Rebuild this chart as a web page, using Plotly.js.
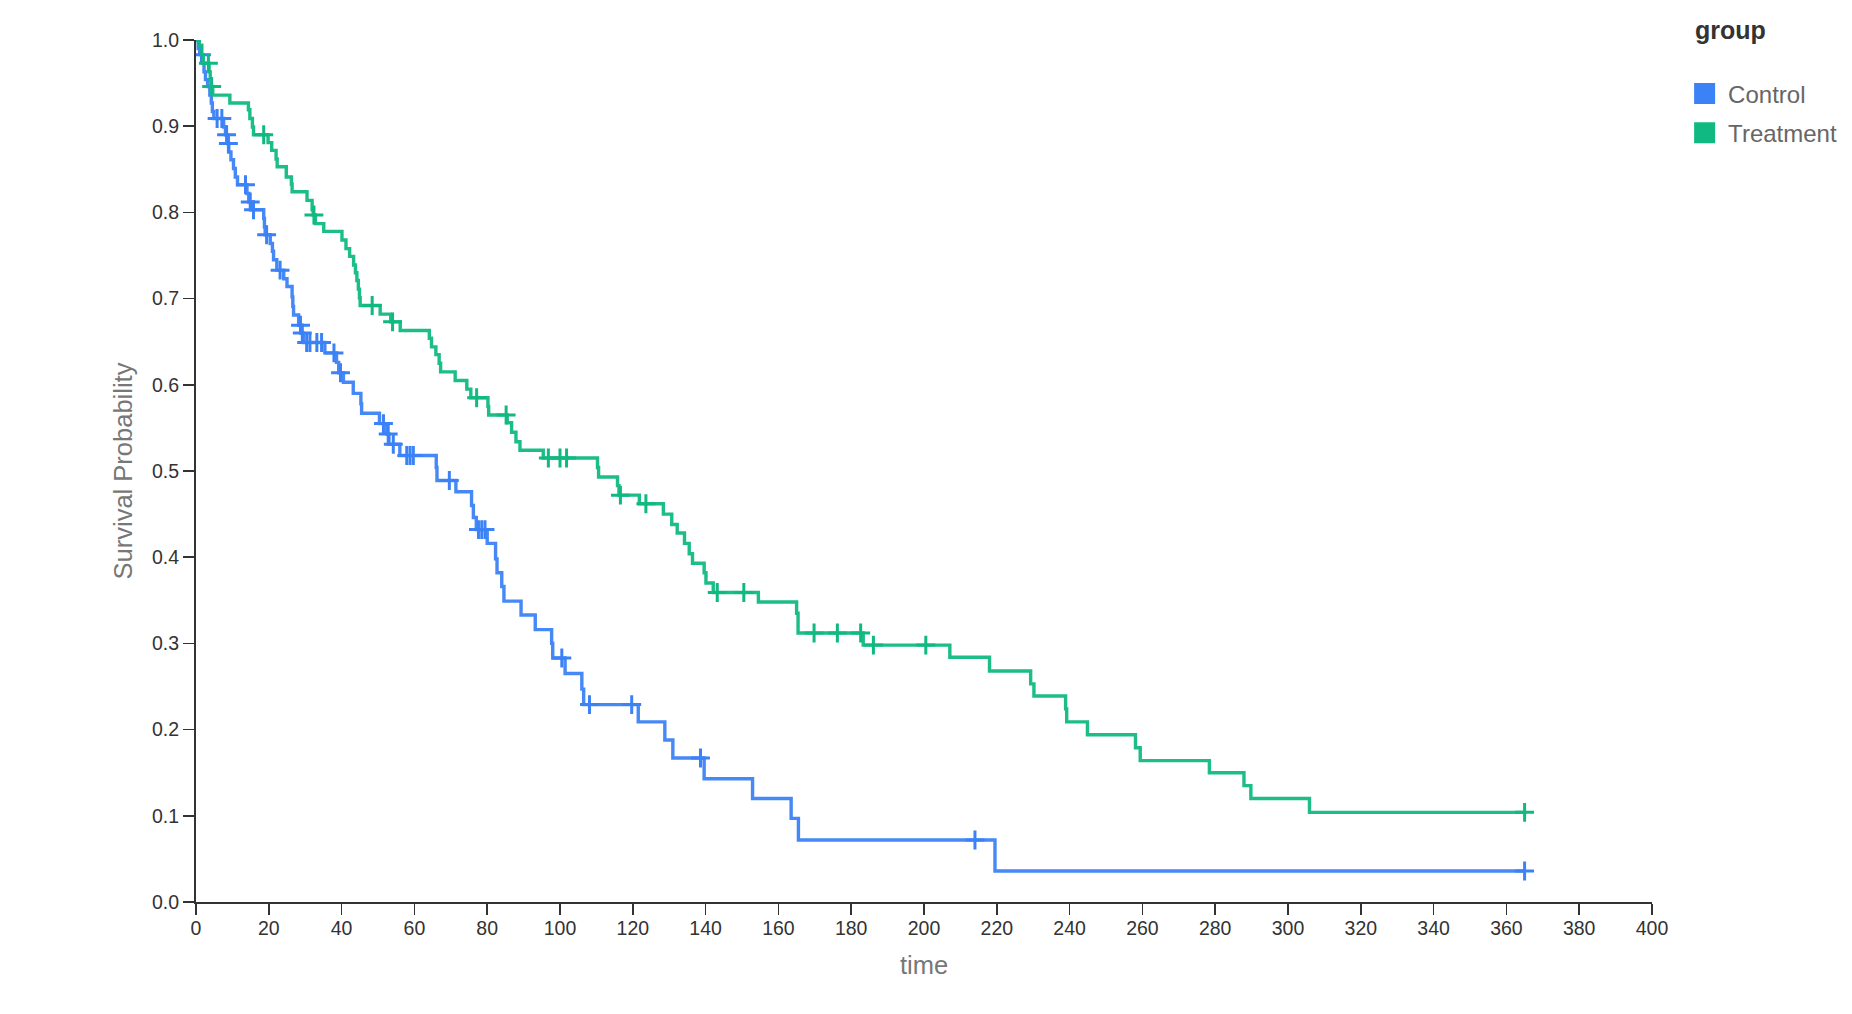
<!DOCTYPE html>
<html>
<head>
<meta charset="utf-8">
<script src="https://cdn.plot.ly/plotly-3.0.1.min.js"></script>
<style>
  html, body { margin: 0; padding: 0; background: #fff; }
  #chart { width: 1852px; height: 1014px; }
</style>
</head>
<body>
<div id="chart"></div>
<script>
// ---- Data ----
const groups = ["Control", "Treatment"];
const groupColors = ["#3b82f6", "#10b981"];

// Control: event times and survival after each event
const controlTimes = [0.6, 1.0, 1.8, 2.2, 2.6, 3.2, 3.8, 4.2, 4.5, 4.9, 7.6, 8.1, 8.7, 9.0, 9.6, 10.3, 10.8, 11.4,
  14.0, 14.5, 15.4, 18.6, 18.8, 19.0, 20.4, 21.0, 21.3, 22.2, 24.1, 25.0, 26.4, 26.6, 26.8, 28.2, 29.0, 29.5,
  35.4, 38.6, 39.2, 40.5, 43.2, 45.3, 45.5, 50.4, 52.4, 53.0, 56.0, 66.0, 66.2, 71.4, 75.7, 76.2, 77.0, 80.0,
  82.3, 82.7, 84.0, 84.6, 89.3, 93.2, 97.7, 98.0, 101.4, 106.0, 106.5, 121.5, 128.8, 131.0, 139.6, 152.9,
  163.5, 165.5, 219.5];
const controlSurv = [0.990, 0.983, 0.973, 0.963, 0.954, 0.946, 0.936, 0.927, 0.917, 0.909, 0.899, 0.890, 0.880, 0.870,
  0.861, 0.851, 0.841, 0.832, 0.822, 0.812, 0.803, 0.793, 0.783, 0.774, 0.764, 0.755, 0.745, 0.733, 0.723, 0.714,
  0.702, 0.691, 0.681, 0.669, 0.660, 0.649, 0.637, 0.626, 0.614, 0.603, 0.590, 0.578, 0.567, 0.555, 0.543, 0.531,
  0.518, 0.504, 0.489, 0.476, 0.460, 0.446, 0.432, 0.416, 0.398, 0.382, 0.366, 0.349, 0.333, 0.316, 0.300, 0.283,
  0.265, 0.247, 0.229, 0.209, 0.188, 0.167, 0.143, 0.120, 0.097, 0.072, 0.036];
const controlCensored = [1.5, 5.8, 7.1, 8.4, 8.9, 13.6, 14.9, 15.8, 19.4, 23.1, 28.7, 29.2, 30.4, 31.3, 33.2, 34.5,
  37.9, 39.7, 51.5, 52.8, 54.2, 57.9, 58.8, 59.7, 69.6, 77.6, 78.5, 79.4, 100.5, 108.1, 119.7, 138.6, 214.0, 365.0];

// Treatment: event times and survival after each event
const treatmentTimes = [0.9, 1.6, 2.0, 3.6, 3.9, 4.1, 4.6, 9.3, 14.4, 14.8, 15.5, 15.8, 19.8, 20.8, 22.0, 22.3, 24.8,
  26.2, 26.4, 30.5, 31.9, 32.2, 32.8, 35.1, 40.1, 41.2, 42.2, 43.3, 43.8, 44.2, 44.6, 44.9, 45.1, 50.6, 53.5, 56.1,
  64.1, 64.7, 65.9, 66.8, 67.2, 71.2, 74.4, 75.5, 80.2, 80.4, 85.5, 86.7, 87.9, 89.0, 95.4, 110.3, 110.6, 115.8,
  116.2, 121.8, 128.4, 130.7, 132.2, 134.2, 135.5, 136.4, 139.6, 140.1, 142.1, 154.5, 165.0, 165.4, 183.3, 207.1,
  218.0, 229.3, 230.2, 238.9, 239.2, 244.9, 258.1, 259.4, 278.4, 287.9, 289.8, 305.9];
const treatmentSurv = [0.994, 0.983, 0.973, 0.963, 0.954, 0.946, 0.936, 0.927, 0.919, 0.909, 0.899, 0.890, 0.881, 0.872,
  0.862, 0.853, 0.841, 0.833, 0.824, 0.814, 0.803, 0.797, 0.787, 0.778, 0.768, 0.758, 0.749, 0.739, 0.730, 0.721,
  0.711, 0.701, 0.692, 0.682, 0.673, 0.663, 0.654, 0.644, 0.635, 0.625, 0.615, 0.605, 0.595, 0.585, 0.575, 0.565,
  0.556, 0.545, 0.534, 0.524, 0.515, 0.504, 0.493, 0.483, 0.472, 0.462, 0.450, 0.438, 0.428, 0.416, 0.404, 0.393,
  0.382, 0.370, 0.359, 0.348, 0.335, 0.312, 0.298, 0.284, 0.268, 0.253, 0.239, 0.224, 0.209, 0.194, 0.179, 0.164,
  0.150, 0.135, 0.120, 0.104];
const treatmentCensored = [3.4, 4.3, 18.6, 32.4, 48.4, 54.0, 77.1, 85.2, 96.8, 100.0, 101.8, 116.6, 123.6, 143.2, 150.5,
  169.8, 176.2, 182.6, 186.1, 200.5, 365.0];

const xTickVals = [0, 20, 40, 60, 80, 100, 120, 140, 160, 180, 200, 220, 240, 260, 280, 300, 320, 340, 360, 380, 400];
const yTickVals = [0, 0.1, 0.2, 0.3, 0.4, 0.5, 0.6, 0.7, 0.8, 0.9, 1.0];

// ---- Build traces ----
function survAt(times, surv, t) {
  let s = 1;
  for (let i = 0; i < times.length; i++) { if (times[i] <= t) s = surv[i]; }
  return s;
}
function buildGroup(name, color, times, surv, censored) {
  const endT = Math.max(...censored, times[times.length - 1]);
  const lineX = [0].concat(times, [endT]);
  const lineY = [1].concat(surv, [surv[surv.length - 1]]);
  const step = {
    type: "scatter", mode: "lines", name: name, legendgroup: name, x: lineX, y: lineY,
    line: { shape: "hv", color: color, width: 3.4 },
    opacity: 0.95, showlegend: false, hoverinfo: "skip"
  };
  const marks = {
    type: "scatter", mode: "markers", name: name + " censored", legendgroup: name,
    x: censored, y: censored.map(t => survAt(times, surv, t)),
    marker: { symbol: "cross-thin", size: 13.5, color: color, line: { color: color, width: 3 } },
    showlegend: false
  };
  const legendItem = {
    type: "scatter", mode: "markers", name: name, legendgroup: name, x: [null], y: [null],
    marker: { symbol: "square", size: 16, color: color, line: { color: color, width: 5 } }, showlegend: true
  };
  return [step, marks, legendItem];
}

const traces = []
  .concat(buildGroup(groups[0], groupColors[0], controlTimes, controlSurv, controlCensored))
  .concat(buildGroup(groups[1], groupColors[1], treatmentTimes, treatmentSurv, treatmentCensored));

const axisCommon = {
  showgrid: false, zeroline: false, showline: true, linecolor: "#333", linewidth: 2,
  ticks: "outside", ticklen: 11, tickwidth: 1.5, tickcolor: "#333",
  tickfont: { family: "Liberation Sans, Arial, sans-serif", size: 19.5, color: "#333" }
};

const layout = {
  width: 1852, height: 1014,
  paper_bgcolor: "#fff", plot_bgcolor: "#fff",
  font: { family: "Liberation Sans, Arial, sans-serif" },
  margin: { l: 196, r: 200, t: 40, b: 112, autoexpand: false },
  xaxis: Object.assign({}, axisCommon, {
    range: [0, 400], tickvals: xTickVals, ticklabelstandoff: -3,
    title: { text: "time", font: { size: 25.5, color: "#777" }, standoff: 18 }
  }),
  yaxis: Object.assign({}, axisCommon, {
    range: [0, 1], tickvals: yTickVals, tickformat: ".1f",
    title: { text: "Survival Probability", font: { size: 25.5, color: "#777" }, standoff: 12 }
  }),
  legend: {
    x: 1.02, xanchor: "left", y: 1.039, yanchor: "top",
    title: { text: "&nbsp;&#8201;<b>group</b><br> ", font: { size: 25, color: "#333" } },
    font: { size: 24, color: "#666" },
    itemwidth: 37, traceorder: "grouped", tracegroupgap: 5
  },
  showlegend: true
};

Plotly.newPlot("chart", traces, layout, { displayModeBar: false, staticPlot: true });
</script>
</body>
</html>
